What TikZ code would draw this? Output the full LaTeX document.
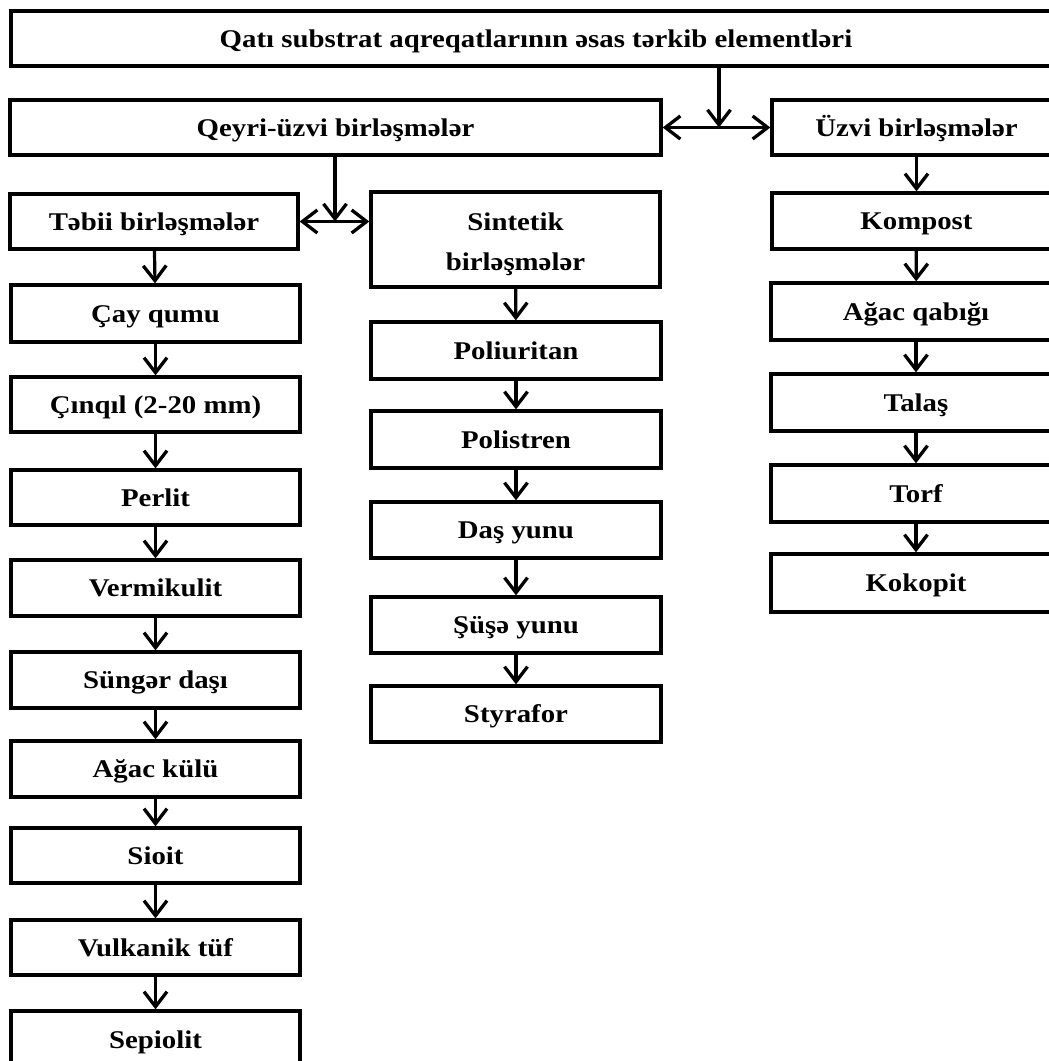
\documentclass[tikz,border=0pt]{standalone}
\usepackage{fontspec}
\setmainfont{Liberation Serif}[FakeStretch=1.13]
\usetikzlibrary{arrows.meta}
\tikzset{
  bxbase/.style={draw=black, line width=3.3pt, inner sep=0pt, align=center,
    font=\fontsize{25.5}{40}\selectfont\bfseries},
  bx/.style={bxbase, text height=17pt, text depth=0pt},
  ar/.style={line width=3.2pt, -{Straight Barb[length=15pt,width=23pt,line width=3.3pt]}},
  dar/.style={line width=3.2pt, {Straight Barb[length=15pt,width=23pt,line width=3.3pt]}-{Straight Barb[length=15pt,width=23pt,line width=3.3pt]}}
}
\newcommand{\mybx}[6]{\node[bx, minimum width={#4-#2}, minimum height={#5-#3}] (#1) at ({(#2+#4)/2},{(#3+#5)/2}) {#6};}
\begin{document}
\begin{tikzpicture}[x=1pt,y=-1pt]
\useasboundingbox[fill=white] (0,0) rectangle (1049,1061);
\mybx{top}{11}{11}{1061}{66}{Qatı substrat aqreqatlarının əsas tərkib elementləri}
\mybx{qeyri}{10}{100}{661}{155}{Qeyri-üzvi birləşmələr}
\mybx{uzvi}{772}{100}{1061}{155}{Üzvi birləşmələr}
\mybx{tebii}{10}{194}{298}{249}{Təbii birləşmələr}
\node[bxbase, text height=62pt, text depth=0pt, minimum width=289, minimum height=95] (sint) at (515.5,239.5) {Sintetik\\birləşmələr};
\mybx{komp}{772}{193}{1061}{249}{Kompost}
% left column
\mybx{cay}{11}{285}{300}{342}{Çay qumu}
\mybx{cinq}{11}{377}{300}{432}{Çınqıl (2-20 mm)}
\mybx{perl}{11}{470}{300}{525}{Perlit}
\mybx{verm}{11}{560}{300}{616}{Vermikulit}
\mybx{sung}{11}{652}{300}{708}{Süngər daşı}
\mybx{kulu}{11}{741}{300}{797}{Ağac külü}
\mybx{sioit}{11}{828}{300}{883}{Sioit}
\mybx{vulk}{11}{920}{300}{975}{Vulkanik tüf}
\mybx{sepi}{11}{1011}{300}{1068}{Sepiolit}
% middle column
\mybx{poli}{371}{322}{661}{379}{Poliuritan}
\mybx{pols}{371}{411}{661}{468}{Polistren}
\mybx{dash}{371}{502}{661}{558}{Daş yunu}
\mybx{shus}{371}{597}{661}{653}{Şüşə yunu}
\mybx{styr}{371}{686}{661}{742}{Styrafor}
% right column
\mybx{qabi}{771}{283}{1061}{340}{Ağac qabığı}
\mybx{tala}{771}{374}{1061}{431}{Talaş}
\mybx{torf}{771}{465}{1061}{522}{Torf}
\mybx{koko}{771}{554}{1061}{612}{Kokopit}
% connectors
\coordinate (j1) at (719,127.5);
\draw[dar] (qeyri.east) -- (uzvi.west);
\draw[ar] (top.south -| j1) -- (j1);
\coordinate (j2) at (335,221.5);
\draw[dar] (tebii.east) -- (tebii.east -| sint.west);
\draw[ar] (qeyri.south -| j2) -- (j2);
\draw[ar] (uzvi.south -| komp.north) -- (komp.north);
\draw[ar] (tebii) -- (cay);
\draw[ar] (cay) -- (cinq);
\draw[ar] (cinq) -- (perl);
\draw[ar] (perl) -- (verm);
\draw[ar] (verm) -- (sung);
\draw[ar] (sung) -- (kulu);
\draw[ar] (kulu) -- (sioit);
\draw[ar] (sioit) -- (vulk);
\draw[ar] (vulk) -- (sepi);
\draw[ar] (sint) -- (poli);
\draw[ar] (poli) -- (pols);
\draw[ar] (pols) -- (dash);
\draw[ar] (dash) -- (shus);
\draw[ar] (shus) -- (styr);
\draw[ar] (komp) -- (qabi);
\draw[ar] (qabi) -- (tala);
\draw[ar] (tala) -- (torf);
\draw[ar] (torf) -- (koko);
\end{tikzpicture}
\end{document}
